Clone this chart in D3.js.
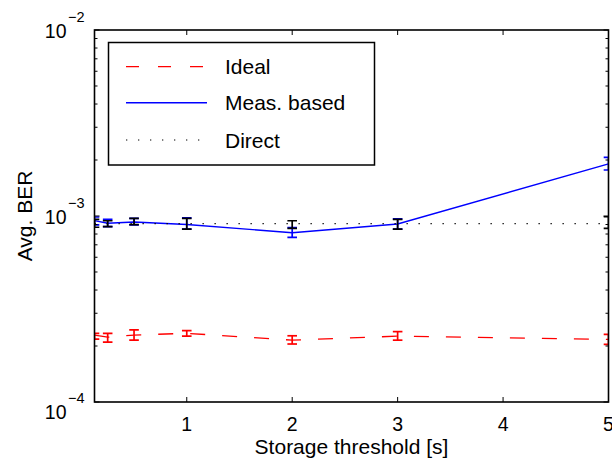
<!DOCTYPE html>
<html>
<head>
<meta charset="utf-8">
<script src="https://d3js.org/d3.v7.min.js"></script>
<style>
  body { margin: 0; background: #fff; }
  text { font-family: "Liberation Sans", Arial, sans-serif; fill: #000; }
</style>
</head>
<body>
<script>
// Data
var thresholds = [0.125, 0.25, 0.5, 1, 2, 3, 5];

var idealBer  = [2.29e-4, 2.23e-4, 2.29e-4, 2.34e-4, 2.15e-4, 2.26e-4, 2.17e-4];
var idealLo   = [2.18e-4, 2.10e-4, 2.15e-4, 2.26e-4, 2.05e-4, 2.15e-4, 2.04e-4];
var idealHi   = [2.34e-4, 2.34e-4, 2.44e-4, 2.42e-4, 2.27e-4, 2.39e-4, 2.31e-4];

var measBer   = [9.44e-4, 9.14e-4, 9.29e-4, 9.0e-4, 8.13e-4, 9.06e-4, 1.905e-3];
var measLo    = [8.95e-4, 8.76e-4, 8.95e-4, 8.49e-4, 7.68e-4, 8.51e-4, 1.767e-3];
var measHi    = [9.88e-4, 9.60e-4, 9.72e-4, 9.76e-4, 8.65e-4, 9.64e-4, 2.067e-3];

var directBer = [9.11e-4, 9.11e-4, 9.11e-4, 9.11e-4, 9.11e-4, 9.11e-4, 9.11e-4];
var directLo  = [8.70e-4, 8.76e-4, 8.98e-4, 8.51e-4, 8.59e-4, 8.51e-4, 8.59e-4];
var directHi  = [9.60e-4, 9.43e-4, 9.72e-4, 9.72e-4, 9.43e-4, 9.60e-4, 9.91e-4];

var xTicks = [1, 2, 3, 4, 5];
var yMajor = [1e-4, 1e-3, 1e-2];
var yExponents = ["−4", "−3", "−2"];

var legendNames = ["Ideal", "Meas. based", "Direct"];

// Size and margins (note: "top" is taken by window.top, so use m* names)
var width = 612, height = 461;
var mLeft = 94.5, mRight = 608.5, mTop = 30, mBottom = 402;

var svg = d3.select("body").append("svg")
  .attr("width", width)
  .attr("height", height);

var x = d3.scaleLinear().domain([0.125, 5]).range([mLeft, mRight]);
var y = d3.scaleLog().domain([1e-4, 1e-2]).range([mBottom, mTop]);

// minor log ticks 2..9 in each decade
var yMinor = [];
[1e-4, 1e-3].forEach(function(d) {
  for (var k = 2; k <= 9; k++) yMinor.push(d * k);
});

// draw order: ideal, meas, direct (direct bars sit on top of the blue ones)
var series = [
  { name: "Ideal", color: "#ff0000", dash: "15,17", width: 1.3, v: idealBer, lo: idealLo, hi: idealHi },
  { name: "Meas. based", color: "#0000ff", dash: null, width: 1.4, v: measBer, lo: measLo, hi: measHi },
  { name: "Direct", color: "#000000", dash: "1.3,10.7", width: 1.2, v: directBer, lo: directLo, hi: directHi }
];

// clip to plot box like matlab does
svg.append("defs").append("clipPath").attr("id", "clip")
  .append("rect").attr("x", mLeft).attr("y", mTop)
  .attr("width", mRight - mLeft).attr("height", mBottom - mTop);

var plot = svg.append("g").attr("clip-path", "url(#clip)");

var line = d3.line()
  .x(function(d) { return x(d[0]); })
  .y(function(d) { return y(d[1]); });

series.forEach(function(s) {
  var pts = thresholds.map(function(t, i) { return [t, s.v[i]]; });
  var g = plot.append("g");
  g.append("path")
    .attr("d", line(pts))
    .attr("fill", "none")
    .attr("stroke", s.color)
    .attr("stroke-width", s.width)
    .attr("stroke-dasharray", s.dash);

  // error bars
  var cap = 4.8;
  thresholds.forEach(function(t, i) {
    var cx = x(t);
    var eb = g.append("g")
      .attr("stroke", s.color)
      .attr("stroke-width", 1.7)
      .attr("fill", "none");
    eb.append("line").attr("x1", cx).attr("x2", cx)
      .attr("y1", y(s.lo[i])).attr("y2", y(s.hi[i]));
    eb.append("line").attr("x1", cx - cap).attr("x2", cx + cap)
      .attr("y1", y(s.lo[i])).attr("y2", y(s.lo[i]));
    eb.append("line").attr("x1", cx - cap).attr("x2", cx + cap)
      .attr("y1", y(s.hi[i])).attr("y2", y(s.hi[i]));
  });
});

// Axes box and ticks
var axes = svg.append("g").attr("stroke", "#000").attr("fill", "none");

xTicks.forEach(function(t) {
  axes.append("line").attr("x1", x(t)).attr("x2", x(t))
    .attr("y1", mBottom).attr("y2", mBottom - 5).attr("stroke-width", 1);
  axes.append("line").attr("x1", x(t)).attr("x2", x(t))
    .attr("y1", mTop).attr("y2", mTop + 5).attr("stroke-width", 1);
});

yMajor.forEach(function(t) {
  axes.append("line").attr("x1", mLeft).attr("x2", mLeft + 5)
    .attr("y1", y(t)).attr("y2", y(t)).attr("stroke-width", 1);
  axes.append("line").attr("x1", mRight).attr("x2", mRight - 5)
    .attr("y1", y(t)).attr("y2", y(t)).attr("stroke-width", 1);
});
yMinor.forEach(function(t) {
  axes.append("line").attr("x1", mLeft).attr("x2", mLeft + 3)
    .attr("y1", y(t)).attr("y2", y(t)).attr("stroke-width", 1);
  axes.append("line").attr("x1", mRight).attr("x2", mRight - 3)
    .attr("y1", y(t)).attr("y2", y(t)).attr("stroke-width", 1);
});

axes.append("rect")
  .attr("x", mLeft).attr("y", mTop)
  .attr("width", mRight - mLeft).attr("height", mBottom - mTop)
  .attr("stroke-width", 1.6);

// Tick labels
svg.selectAll(".xlab")
  .data(xTicks)
  .enter().append("text")
  .attr("class", "xlab")
  .attr("x", function(d) { return x(d); })
  .attr("y", 431)
  .attr("text-anchor", "middle")
  .style("font-size", "19.5px")
  .text(function(d) { return d; });

yMajor.forEach(function(t, i) {
  var yy = y(t) + (t === 1e-4 ? 9 : 0);
  svg.append("text")
    .attr("x", 66.5).attr("y", yy + 7.5)
    .attr("text-anchor", "end")
    .style("font-size", "19.5px")
    .text("10");
  svg.append("text")
    .attr("x", 68).attr("y", yy - 8.5)
    .style("font-size", "14.5px")
    .text(yExponents[i]);
});

// Axis labels
svg.append("text")
  .attr("x", (mLeft + mRight) / 2)
  .attr("y", 454)
  .attr("text-anchor", "middle")
  .style("font-size", "21px")
  .text("Storage threshold [s]");

svg.append("text")
  .attr("transform", "translate(32," + ((mTop + mBottom) / 2) + ") rotate(-90)")
  .attr("text-anchor", "middle")
  .style("font-size", "21px")
  .text("Avg. BER");

// Legend
var legend = svg.append("g");
legend.append("rect")
  .attr("x", 108.5).attr("y", 42.5)
  .attr("width", 266).attr("height", 122.5)
  .attr("fill", "#fff")
  .attr("stroke", "#000")
  .attr("stroke-width", 1.5);

var legendY = [66.7, 102.7, 140];
var legendStyle = [series[0], series[1], series[2]];
legendNames.forEach(function(name, i) {
  var s = legendStyle[i];
  legend.append("line")
    .attr("x1", 126).attr("x2", 207)
    .attr("y1", legendY[i]).attr("y2", legendY[i])
    .attr("stroke", s.color)
    .attr("stroke-width", s.width)
    .attr("stroke-dasharray", s.name === "Ideal" ? "13,19" : s.dash);
  legend.append("text")
    .attr("x", 225).attr("y", legendY[i] + 7.5)
    .style("font-size", "21px")
    .text(name);
});
</script>
</body>
</html>
